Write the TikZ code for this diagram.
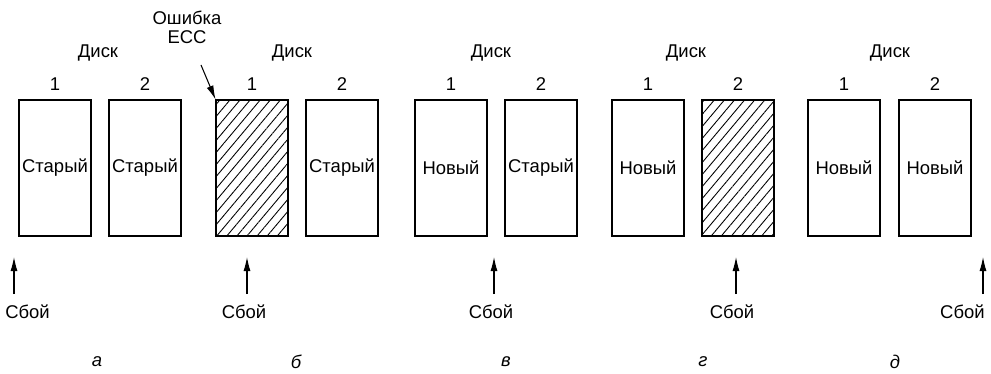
\documentclass[tikz,border=0pt]{standalone}
\usepackage{fontspec}
\setmainfont{Liberation Sans}
\usepackage{tikz}
\usetikzlibrary{positioning, arrows.meta, patterns.meta}

\begin{document}
\begin{tikzpicture}[x=0.02cm, y=-0.02cm, font=\fontsize{10.5}{12}\selectfont,
    disk/.style={draw, line width=0.6pt, minimum width=1.44cm, minimum height=2.72cm, inner sep=0pt},
    hatched/.style={disk, pattern={Lines[angle=50, distance=4.4pt, line width=0.5pt]}},
    fail/.style={-{Latex[length=8pt, width=4pt]}, line width=0.6pt, shorten <=6pt},
    lbl/.style={inner sep=0pt},
    panel/.style={font=\fontsize{10.5}{12}\selectfont\itshape}]
            \useasboundingbox (0,0) rectangle (991,374);

            % a
            \node (H1) at (98,53) {Диск};
            \node (one1) at (55,84) {1};
            \node (two1) at (145,84) {2};
            \node[disk] (L1) at (55,168) {Старый};
            \node[disk] (R1) at (145,168) {Старый};
            \coordinate (f1) at (14,257);
            \node[lbl, anchor=west] (S1) at (5,312) {Сбой};
            \draw[fail] (f1 |- S1.north) -- (f1);
            \node[panel] (P1) at (97,362) {а};

            % b
            \node[align=center, inner sep=0pt] (E2) at (187,27) {Ошибка\\[-1pt]ЕСС};
            \node (H2) at (292,53) {Диск};
            \node (one2) at (252,84) {1};
            \node (two2) at (342,84) {2};
            \node[hatched] (L2) at (252,168) {};
            \node[disk] (R2) at (342,168) {Старый};
            \draw[fail, shorten <=0pt] (201,65) -- (L2.north west);
            \coordinate (f2) at (247,257);
            \node[lbl] (S2) at (244,312) {Сбой};
            \draw[fail] (f2 |- S2.north) -- (f2);
            \node[panel] (P2) at (296,362) {б};

            % c
            \node (H3) at (491,53) {Диск};
            \node (one3) at (451,84) {1};
            \node (two3) at (541,84) {2};
            \node[disk] (L3) at (451,168) {Новый};
            \node[disk] (R3) at (541,168) {Старый};
            \coordinate (f3) at (494,257);
            \node[lbl] (S3) at (491,312) {Сбой};
            \draw[fail] (f3 |- S3.north) -- (f3);
            \node[panel] (P3) at (506,362) {в};

            % d
            \node (H4) at (686,53) {Диск};
            \node (one4) at (648,84) {1};
            \node (two4) at (738,84) {2};
            \node[disk] (L4) at (648,168) {Новый};
            \node[hatched] (R4) at (738,168) {};
            \coordinate (f4) at (736,257);
            \node[lbl] (S4) at (732,312) {Сбой};
            \draw[fail] (f4 |- S4.north) -- (f4);
            \node[panel] (P4) at (703,362) {г};

            % e
            \node (H5) at (890,53) {Диск};
            \node (one5) at (844,84) {1};
            \node (two5) at (935,84) {2};
            \node[disk] (L5) at (844,168) {Новый};
            \node[disk] (R5) at (935,168) {Новый};
            \coordinate (f5) at (983,257);
            \node[lbl, anchor=east] (S5) at (985,312) {Сбой};
            \draw[fail] (f5 |- S5.north) -- (f5);
            \node[panel] (P5) at (895,362) {д};
        \end{tikzpicture}
\end{document}
